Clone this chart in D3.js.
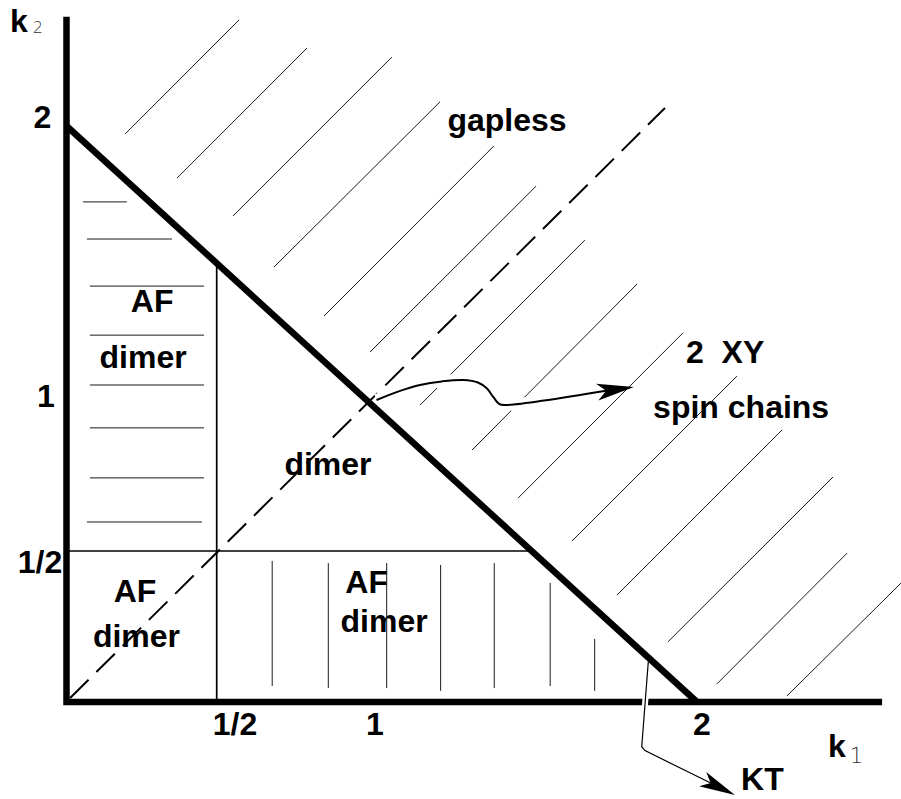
<!DOCTYPE html>
<html>
<head>
<meta charset="utf-8">
<script src="https://cdn.jsdelivr.net/npm/d3@7"></script>
<style>
  body { margin: 0; background: #fff; }
  svg { display: block; background: #fff; }
  .label { font-family: "Liberation Sans", Arial, sans-serif; font-weight: bold; font-size: 32px; fill: #000; }
  .sub { font-family: "DejaVu Sans", sans-serif; font-weight: 200; fill: #333; }
</style>
</head>
<body>
<script>
// knots of the (hand drawn, not quite linear) k1 / k2 axes
const k1Knots = [0, 0.5, 1, 2];
const k2Knots = [0, 0.5, 1, 2];

// tick labels
const xTicks = [0.5, 1, 2];
const xTickText = ["1/2", "1", "2"];
const yTicks = [0.5, 1, 2];
const yTickText = ["1/2", "1", "2"];

// axis extents (k units)
const k1AxisMax = 2.566;
const k2AxisMax = 2.394;

// phase boundaries
const boundary = [[0, 2], [2, 0]];          // k1 + k2 = 2
const halfK1 = [[0.5, 0], [0.5, 1.5]];      // k1 = 1/2
const halfK2 = [[0, 0.5], [1.5, 0.5]];      // k2 = 1/2
const symLine = [[0.012, 0.013], [1.902, 2.065]];  // k1 = k2, dashed

// hatching: [k1a, k2a, k1b, k2b]
const gaplessHatch = [
    [0.195, 1.971, 0.573, 2.383],
    [0.368, 1.812, 0.795, 2.282],
    [0.553, 1.675, 1.067, 2.249],
    [0.687, 1.491, 1.214, 2.087],
    [0.850, 1.314, 1.379, 1.928],
    [1.000, 1.184, 1.508, 1.783],
    [1.153, 0.993, 1.657, 1.588],
    [1.312, 0.841, 1.817, 1.430],
    [1.453, 0.679, 1.957, 1.253],
    [1.618, 0.534, 2.122, 1.097],
    [1.755, 0.354, 2.260, 0.909],
    [1.911, 0.199, 2.416, 0.750],
    [2.061, 0.060, 2.459, 0.493],
    [2.275, 0.020, 2.627, 0.397]
];
// horizontal hatching of the upper AF dimer strip: [k2, k1a, k1b]
const afUpperHatch = [
    [1.726, 0.055, 0.201],
    [1.592, 0.068, 0.351],
    [1.422, 0.078, 0.458],
    [1.245, 0.078, 0.458],
    [1.065, 0.078, 0.458],
    [0.916, 0.078, 0.458],
    [0.747, 0.078, 0.458],
    [0.598, 0.068, 0.451]
];
// vertical hatching of the lower AF dimer strip: [k1, k2a, k2b]
const afLowerHatch = [
    [0.681, 0.053, 0.467],
    [0.864, 0.046, 0.460],
    [1.051, 0.046, 0.460],
    [1.216, 0.037, 0.454],
    [1.380, 0.046, 0.460],
    [1.551, 0.053, 0.394],
    [1.687, 0.037, 0.209]
];

// annotation arrows (last point is the tip)
const xyArrow = [[1.020, 1.011], [1.09, 1.043], [1.153, 1.065], [1.22, 1.078], [1.285, 1.083],
                 [1.33, 1.074], [1.357, 1.053], [1.378, 1.02], [1.395, 0.997], [1.41, 0.993], [1.807, 1.058]];
const ktArrow = [[1.851, 0.133], [1.831, -0.148], [1.841, -0.161], [2.116, -0.308]];

// region labels, anchored at middle / baseline
const regionText = ["AF", "dimer", "dimer", "AF", "dimer", "AF", "dimer", "gapless", "2  XY", "spin chains", "KT"];
const regionK1 = [0.285, 0.255, 0.863, 0.228, 0.233, 0.989, 1.043, 1.419, 2.086, 2.135, 2.200];
const regionK2 = [1.329, 1.126, 0.757, 0.331, 0.182, 0.361, 0.232, 1.982, 1.144, 0.949, -0.291];

const W = 901, H = 799;
const svg = d3.select("body").append("svg").attr("width", W).attr("height", H);

const x = d3.scaleLinear().domain(k1Knots).range([66.5, 216.7, 370, 697]);
const y = d3.scaleLinear().domain(k2Knots).range([702, 551, 403, 126]);
const pt = d => [x(d[0]), y(d[1])];

/**
 * filled, notched arrow head with its tip at p1, pointing away from p0 (pixels)
 */
function arrowHead(p0, p1, len, half, notch) {
    const dx = p1[0] - p0[0], dy = p1[1] - p0[1], L = Math.hypot(dx, dy);
    const ux = dx / L, uy = dy / L, nx = -uy, ny = ux;
    const bx = p1[0] - ux * len, by = p1[1] - uy * len;
    return [p1, [bx + nx * half, by + ny * half],
            [p1[0] - ux * (len - notch), p1[1] - uy * (len - notch)],
            [bx - nx * half, by - ny * half]];
}

// labels first, the hatching runs over them
svg.append("g").selectAll("text")
    .data(regionText)
    .join("text")
    .attr("class", "label")
    .attr("x", (d, i) => x(regionK1[i]))
    .attr("y", (d, i) => y(regionK2[i]))
    .attr("text-anchor", "middle")
    .style("white-space", "pre")
    .text(d => d);

let hatch = svg.append("g").attr("stroke", "#1a1a1a").attr("stroke-width", 1);
hatch.selectAll(".diag")
    .data(gaplessHatch)
    .join("line")
    .attr("x1", d => x(d[0])).attr("y1", d => y(d[1]))
    .attr("x2", d => x(d[2])).attr("y2", d => y(d[3]));
hatch.selectAll(".hor")
    .data(afUpperHatch)
    .join("line")
    .attr("x1", d => x(d[1])).attr("y1", d => y(d[0]))
    .attr("x2", d => x(d[2])).attr("y2", d => y(d[0]));
hatch.selectAll(".ver")
    .data(afLowerHatch)
    .join("line")
    .attr("x1", d => x(d[0])).attr("y1", d => y(d[1]))
    .attr("x2", d => x(d[0])).attr("y2", d => y(d[2]));

const line = d3.line().x(d => x(d[0])).y(d => y(d[1]));

// the two 1/2 lines
svg.selectAll(".half")
    .data([halfK1, halfK2])
    .join("path")
    .attr("d", line)
    .attr("fill", "none")
    .attr("stroke", "#000")
    .attr("stroke-width", 1.7);

// k1 = k2 dashed
svg.append("path")
    .attr("d", line(symLine))
    .attr("fill", "none")
    .attr("stroke", "#000")
    .attr("stroke-width", 2)
    .attr("stroke-dasharray", "26 11");

// axes
svg.append("path")
    .attr("d", line([[0, k2AxisMax], [0, 0], [k1AxisMax, 0]]))
    .attr("fill", "none")
    .attr("stroke", "#000")
    .attr("stroke-width", 6.5)
    .attr("stroke-linejoin", "miter");

// arrows, with a white halo so they cut what they cross
function drawArrow(pts, width, halo, len, half, notch, curve) {
    const px = pts.map(pt);
    const tip = px[px.length - 1], prev = px[px.length - 2];
    const head = arrowHead(prev, tip, len, half, notch);
    const shaft = px.slice(0, -1).concat([head[2]]);
    const pathGen = d3.line().curve(curve);
    svg.append("path").attr("d", pathGen(shaft)).attr("fill", "none")
        .attr("stroke", "#fff").attr("stroke-width", halo);
    svg.append("path").attr("d", pathGen(shaft)).attr("fill", "none")
        .attr("stroke", "#000").attr("stroke-width", width);
    svg.append("polygon").attr("points", head.map(p => p.join(",")).join(" "))
        .attr("fill", "#000");
}
drawArrow(xyArrow, 2, 12, 37, 8.5, 9, d3.curveCatmullRom.alpha(0.5));
drawArrow(ktArrow, 1.2, 6, 36, 8, 9, d3.curveLinear);

// k1 + k2 = 2, thick
svg.append("path")
    .attr("d", line(boundary))
    .attr("fill", "none")
    .attr("stroke", "#000")
    .attr("stroke-width", 6.5);

// tick labels
svg.append("g").selectAll("text")
    .data(xTicks)
    .join("text")
    .attr("class", "label")
    .attr("x", d => x(d) - 4)
    .attr("y", y(0) + 33)
    .text((d, i) => xTickText[i]);

const yTickCx = [40, 46, 42.5];
const yTickDy = [22, 4, 2];
svg.append("g").selectAll("text")
    .data(yTicks)
    .join("text")
    .attr("class", "label")
    .attr("text-anchor", "middle")
    .attr("x", (d, i) => yTickCx[i])
    .attr("y", (d, i) => y(d) + yTickDy[i])
    .text((d, i) => yTickText[i]);

// axis titles
function axisTitle(px, py, sub, subSize, subDx, subDy) {
    let t = svg.append("text").attr("class", "label").attr("x", px).attr("y", py);
    t.append("tspan").text("k");
    t.append("tspan").attr("class", "sub").attr("font-size", subSize)
        .attr("dx", subDx).attr("dy", subDy).text(sub);
}
axisTitle(10, 32, "2", 16, 5, 1);
axisTitle(828, 757, "1", 21, 4, 6);
</script>
</body>
</html>
